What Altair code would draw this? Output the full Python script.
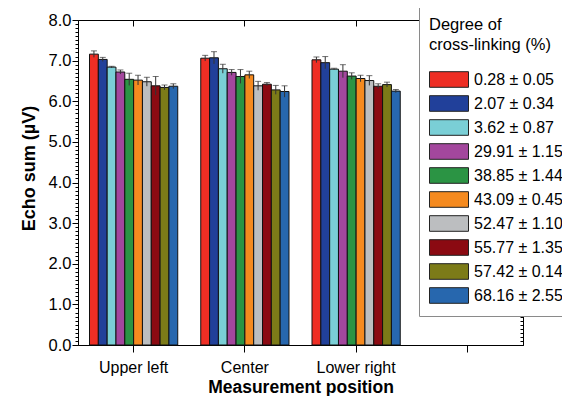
import altair as alt
import pandas as pd

positions = ["Upper left", "Center", "Lower right"]
x_domain = positions + [" "]
series = ["0.28 ± 0.05", "2.07 ± 0.34", "3.62 ± 0.87", "29.91 ± 1.15", "38.85 ± 1.44",
          "43.09 ± 0.45", "52.47 ± 1.10", "55.77 ± 1.35", "57.42 ± 0.14", "68.16 ± 2.55"]
colors = ["#EE2E24", "#21409A", "#7ACFD6", "#A3479D", "#2B9444",
          "#F58A1F", "#BCBEC0", "#8B0A12", "#7C7B18", "#2767AE"]

upper_left = [7.16, 7.03, 6.84, 6.72, 6.54, 6.52, 6.48, 6.38, 6.34, 6.37]
center = [7.06, 7.07, 6.80, 6.71, 6.61, 6.65, 6.38, 6.42, 6.28, 6.24]
lower_right = [7.02, 6.95, 6.79, 6.74, 6.62, 6.56, 6.51, 6.37, 6.41, 6.25]
err_upper_left = [0.08, 0.05, 0.02, 0.05, 0.15, 0.12, 0.11, 0.23, 0.06, 0.06]
err_center = [0.07, 0.15, 0.11, 0.07, 0.17, 0.09, 0.11, 0.04, 0.11, 0.14]
err_lower_right = [0.07, 0.15, 0.02, 0.16, 0.08, 0.08, 0.12, 0.06, 0.06, 0.04]

y_major = [0, 1, 2, 3, 4, 5, 6, 7, 8]
y_minor = [round(i * 0.1, 1) for i in range(81)]

rows = []
for pos, vals, errs in [("Upper left", upper_left, err_upper_left),
                        ("Center", center, err_center),
                        ("Lower right", lower_right, err_lower_right)]:
    for s, v, e in zip(series, vals, errs):
        rows.append({"pos": pos, "series": s, "val": v, "lo": v - e, "hi": v + e})
df = pd.DataFrame(rows)

FONT = "Liberation Sans"
xscale = alt.Scale(type="band", domain=x_domain, paddingInner=0.207, paddingOuter=0.1035)
yscale = alt.Scale(domain=[0, 8], nice=False, zero=True)
xoff = alt.XOffset("series:N", sort=series,
                   scale=alt.Scale(domain=series, paddingInner=0, paddingOuter=0))

base = alt.Chart(df)

bars = base.mark_bar(stroke="#111111", strokeWidth=1).encode(
    x=alt.X("pos:N", scale=xscale, sort=x_domain,
            axis=alt.Axis(orient="bottom", title="Measurement position", labelAngle=0,
                          tickSize=7, labelPadding=7, titleBaseline="alphabetic",
                          titleY=47, titleFontSize=17.5, titleFontWeight="bold",
                          labelFontSize=16)),
    xOffset=xoff,
    y=alt.Y("val:Q", scale=yscale,
            axis=alt.Axis(orient="left", values=y_major, format=".1f", tickSize=6,
                          labelPadding=1, title="Echo sum (µV)", titleX=-44, titleY=148,
                          titleBaseline="alphabetic", titleAlign="center",
                          titleFontSize=18, titleFontWeight="bold", labelFontSize=16.5)),
    color=alt.Color("series:N", sort=series, scale=alt.Scale(domain=series, range=colors),
                    legend=alt.Legend(orient="none", legendX=341, legendY=-13,
                                      title=["Degree of", "cross-linking (%)"])),
)

err_rule = base.mark_rule(color="#333333", strokeWidth=1).encode(
    x=alt.X("pos:N", scale=xscale, sort=x_domain, axis=None),
    xOffset=xoff,
    y=alt.Y("lo:Q", scale=yscale, axis=None),
    y2="hi:Q",
)

err_cap = base.mark_tick(color="#333333", thickness=1, size=6, orient="horizontal").encode(
    x=alt.X("pos:N", scale=xscale, sort=x_domain, axis=None),
    xOffset=xoff,
    y=alt.Y("hi:Q", scale=yscale, axis=None),
)

def ghost(xaxis, yaxis):
    return base.mark_point(opacity=0).encode(
        x=alt.X("pos:N", scale=xscale, sort=x_domain, axis=xaxis),
        y=alt.Y("val:Q", scale=yscale, axis=yaxis),
    )

top_axis = ghost(alt.Axis(orient="bottom", offset=-325, labels=False, tickSize=6, title=None),
                 alt.Axis(orient="left", values=y_minor, tickSize=3, labels=False,
                          domain=False, title=None))
right_minor = ghost(None,
                    alt.Axis(orient="left", offset=-445, values=y_minor, tickSize=3,
                             labels=False, domain=True, title=None))
right_major = ghost(None,
                    alt.Axis(orient="left", offset=-445, values=y_major, tickSize=6,
                             labels=False, domain=False, title=None))

chart = alt.layer(bars, err_rule, err_cap, top_axis, right_minor, right_major).resolve_axis(
    x="independent", y="independent"
).properties(
    width=445, height=325,
    autosize=alt.AutoSizeParams(type="none"),
    padding={"left": 70, "top": 12, "right": 39, "bottom": 51},
).configure(
    font=FONT
).configure_view(
    strokeWidth=0
).configure_axis(
    domainColor="#000000", domainWidth=1, tickColor="#000000", tickWidth=1,
    labelColor="#000000", titleColor="#000000", grid=False, labelFont=FONT, titleFont=FONT,
).configure_legend(
    padding=10, strokeColor="#8a8a8a", fillColor="#ffffff",
    titleFont=FONT, titleFontSize=16.5, titleFontWeight="normal", titleColor="#000000",
    titleLineHeight=20, titlePadding=16,
    labelFont=FONT, labelFontSize=16, labelColor="#000000", labelOffset=5,
    symbolType="M-1,-0.4L1,-0.4L1,0.4L-1,0.4Z", symbolSize=1521,
    symbolStrokeColor="#222222", symbolStrokeWidth=1, symbolOpacity=1,
    clipHeight=20, rowPadding=4,
)

chart.save("out.html", embed_options={"renderer": "svg", "actions": False})
